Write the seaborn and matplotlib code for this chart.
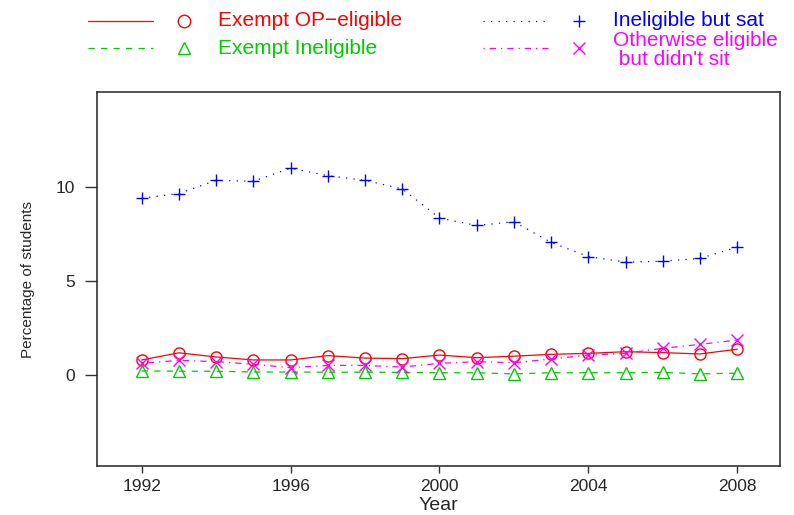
import pandas as pd
import matplotlib
matplotlib.use('Agg')
import matplotlib.pyplot as plt
from matplotlib.lines import Line2D
import seaborn as sns

sns.set_theme(style="white")
plt.rcParams['font.family'] = ['Liberation Sans', 'DejaVu Sans']

# data
years = list(range(1992, 2009))
exempt_op = [0.80, 1.18, 0.96, 0.80, 0.80, 1.03, 0.90, 0.87, 1.06, 0.92, 1.00, 1.10, 1.15, 1.24, 1.19, 1.12, 1.37]
exempt_inel = [0.22, 0.20, 0.20, 0.16, 0.16, 0.15, 0.15, 0.14, 0.12, 0.12, 0.06, 0.12, 0.12, 0.12, 0.14, 0.06, 0.10]
inel_sat = [9.40, 9.65, 10.35, 10.30, 11.00, 10.60, 10.35, 9.90, 8.35, 7.95, 8.15, 7.05, 6.30, 6.00, 6.05, 6.20, 6.80]
other_elig = [0.62, 0.78, 0.71, 0.57, 0.39, 0.51, 0.51, 0.42, 0.62, 0.71, 0.65, 0.85, 1.06, 1.15, 1.42, 1.63, 1.86]

labels = ["Exempt OP\u2212eligible", "Exempt Ineligible", "Ineligible but sat",
          "Otherwise eligible\n but didn't sit"]
colors = ["#FF0000", "#00CD00", "#0000FF", "#FF00FF"]
markers = ["o", "^", "+", "x"]
dashes = [(None, None), (5, 5), (1, 5), (1, 4, 5, 4)]
x_ticks = [1992, 1996, 2000, 2004, 2008]
y_ticks = [0, 5, 10]

df = pd.DataFrame({'Year': years, labels[0]: exempt_op, labels[1]: exempt_inel,
                   labels[2]: inel_sat, labels[3]: other_elig})

fig = plt.figure(figsize=(7.94, 5.15), dpi=100)
ax = fig.add_axes([0.1222, 0.0951, 0.8602, 0.7263])

for lab, col, mk, ds in zip(labels, colors, markers, dashes):
    line_kw = dict(color=col, marker=mk, markersize=8, lw=0.9, mew=1,
                   mfc='none' if mk in 'o^' else col, mec=col)
    if ds[0] is not None:
        line_kw['dashes'] = ds
    sns.lineplot(data=df, x='Year', y=lab, ax=ax, **line_kw)

ax.set_xlim(1990.8, 2009.15)
ax.set_ylim(-4.84, 15.05)
ax.set_xticks(x_ticks)
ax.set_yticks(y_ticks)
ax.tick_params(direction='out', width=1, labelsize=12.5, color='#333333',
               bottom=True, left=True)
ax.tick_params(axis='x', length=5, pad=4.5)
ax.tick_params(axis='y', length=8.5, pad=7)
for s in ax.spines.values():
    s.set_color('#333333')
    s.set_linewidth(1.2)
ax.set_xlabel('Year', fontsize=14)
ax.xaxis.set_label_coords(0.5, -0.106)
ax.xaxis.label.set_va('center')
ax.set_ylabel('Percentage of students', fontsize=11)
ax.yaxis.set_label_coords(-0.101, 0.5)
ax.yaxis.label.set_va('center')

# legend drawn in R "key" style: line sample, marker, coloured text
W, H = 794, 515
key_pos = [(88, 21), (88, 48), (483, 21), (483, 48)]
for (px, py), lab, col, mk, ds in zip(key_pos, labels, colors, markers, dashes):
    fy = 1 - py / H
    ln = Line2D([px / W, (px + 65) / W], [fy, fy], color=col, lw=0.9,
                transform=fig.transFigure)
    if ds[0] is not None:
        ln.set_dashes(ds)
    fig.add_artist(ln)
    fig.add_artist(Line2D([(px + 96) / W], [fy], marker=mk, markersize=9, mew=1,
                          color=col, mfc='none', linestyle='none',
                          transform=fig.transFigure))
    ty = fy if '\n' not in lab else 1 - 50 / H
    fig.text((px + 130) / W, ty, lab, color=col, fontsize=15, va='center',
             ha='left', linespacing=0.95)

fig.savefig('out.png', dpi=100)
